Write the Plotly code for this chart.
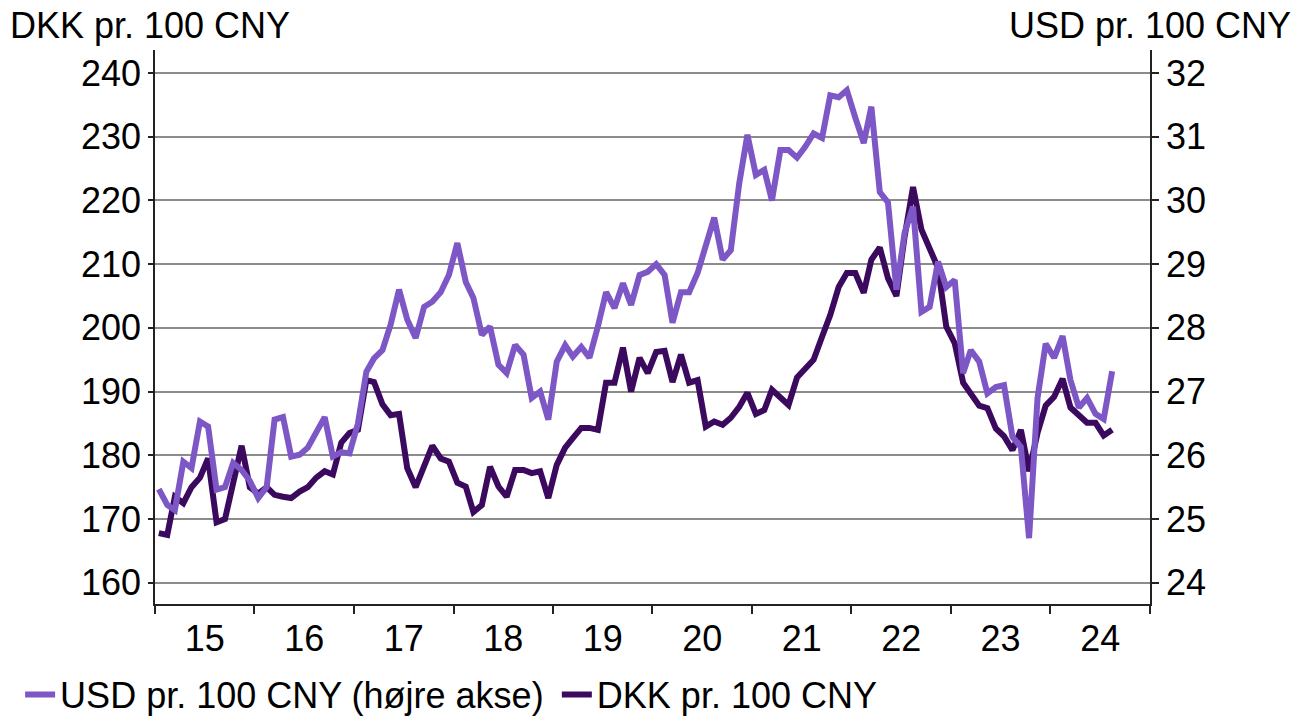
import pandas as pd
import plotly.graph_objects as go

# Monthly observations, Jan 2015 - Aug 2024
start_month = "2015-01-01"
n_months = 116

dkk_per_100_cny = [
    167.8, 167.5, 173.5, 172.5, 175.0, 176.5, 179.5, 169.5, 170.0, 175.5, 181.5, 175.0,
    174.0, 175.0, 173.8, 173.5, 173.3, 174.3, 175.0, 176.5, 177.5, 177.0, 182.0, 183.5,
    184.0, 191.8, 191.5, 188.0, 186.3, 186.5, 178.0, 175.0, 178.5, 181.5, 179.5, 179.0,
    175.7, 175.1, 171.1, 172.2, 178.2, 175.1, 173.5, 177.7, 177.7, 177.2, 177.5, 173.3,
    178.5, 181.2, 182.7, 184.3, 184.3, 184.0, 191.4, 191.4, 196.9, 190.0, 195.3, 192.9,
    196.2, 196.4, 191.5, 195.8, 191.4, 191.8, 184.5, 185.3, 184.8, 185.9, 187.6, 189.8,
    186.5, 187.1, 190.3, 189.0, 187.9, 192.2, 193.7, 195.0, 198.6, 202.0, 206.4, 208.6,
    208.6, 205.5, 210.7, 212.6, 207.8, 205.0, 214.3, 222.1, 215.4, 212.7, 209.4, 200.2,
    197.6, 191.4, 189.5, 187.8, 187.4, 184.2, 183.0, 180.8, 184.0, 177.5, 183.5, 187.8,
    189.2, 192.0, 187.5, 186.3, 185.1, 185.1, 183.1, 184.0,
]

usd_per_100_cny = [
    25.47, 25.22, 25.14, 25.90, 25.80, 26.53, 26.45, 25.46, 25.50, 25.88, 25.77, 25.60,
    25.33, 25.50, 26.56, 26.60, 25.98, 26.01, 26.12, 26.35, 26.60, 25.98, 26.05, 26.03,
    26.50, 27.31, 27.52, 27.65, 28.05, 28.60, 28.13, 27.84, 28.33, 28.41, 28.56, 28.83,
    29.33, 28.72, 28.47, 27.89, 28.02, 27.42, 27.29, 27.73, 27.58, 26.90, 27.00, 26.56,
    27.47, 27.73, 27.55, 27.70, 27.53, 28.02, 28.56, 28.31, 28.70, 28.36, 28.83, 28.88,
    29.00, 28.83, 28.08, 28.56, 28.56, 28.86, 29.30, 29.73, 29.07, 29.22, 30.27, 31.03,
    30.40, 30.48, 30.00, 30.79, 30.79, 30.67, 30.84, 31.05, 30.98, 31.65, 31.62, 31.73,
    31.30, 30.90, 31.47, 30.13, 29.97, 28.60, 29.49, 29.90, 28.25, 28.33, 29.04, 28.64,
    28.75, 27.29, 27.65, 27.47, 26.97, 27.07, 27.10, 26.29, 26.13, 24.70, 26.90, 27.75,
    27.53, 27.87, 27.18, 26.75, 26.90, 26.65, 26.57, 27.32,
]

left_ticks = [160, 170, 180, 190, 200, 210, 220, 230, 240]
right_ticks = [24, 25, 26, 27, 28, 29, 30, 31, 32]

name_usd = "USD pr. 100 CNY (højre akse)"
name_dkk = "DKK pr. 100 CNY"
title_left = "DKK pr. 100 CNY"
title_right = "USD pr. 100 CNY"

dates = pd.date_range(start_month, periods=n_months, freq="MS") + pd.Timedelta(days=14)

PURPLE = "#7E57C6"
DARK = "#3B0A5E"
AXIS = "#222222"
FONT = "Liberation Sans, Arial, sans-serif"
FS = 36

fig = go.Figure()
fig.add_trace(go.Scatter(x=dates, y=dkk_per_100_cny, name=name_dkk, mode="lines",
                         line=dict(color=DARK, width=6), yaxis="y", legend="legend2"))
fig.add_trace(go.Scatter(x=dates, y=usd_per_100_cny, name=name_usd, mode="lines",
                         line=dict(color=PURPLE, width=6), yaxis="y2", legend="legend"))

fig.update_layout(
    width=1298, height=716,
    margin=dict(l=155, r=148, t=50, b=112, autoexpand=False),
    paper_bgcolor="white", plot_bgcolor="white",
    font=dict(family=FONT, size=FS, color="black"),
    xaxis=dict(
        type="date", range=["2015-01-01", "2025-01-01"],
        tick0="2015-01-01", dtick="M12", tickformat="%y", ticklabelmode="period",
        ticks="outside", ticklen=8, tickwidth=1.5, tickcolor=AXIS,
        showline=True, linecolor=AXIS, linewidth=1.5, showgrid=False,
        tickfont=dict(size=FS), automargin=False, ticklabelstandoff=-6,
    ),
    yaxis=dict(
        range=[156.67, 243.6], tickvals=left_ticks,
        ticks="outside", ticklen=5, tickwidth=1.5, tickcolor=AXIS,
        showline=True, linecolor=AXIS, linewidth=1.5,
        showgrid=True, gridcolor="#8c8c8c", gridwidth=1.5, zeroline=False,
        tickfont=dict(size=FS), automargin=False,
    ),
    yaxis2=dict(
        range=[23.667, 32.36], tickvals=right_ticks, overlaying="y", side="right",
        ticks="outside", ticklen=7, tickwidth=1.5, tickcolor=AXIS,
        showline=True, linecolor=AXIS, linewidth=1.5,
        showgrid=False, zeroline=False,
        tickfont=dict(size=FS), automargin=False,
    ),
    legend=dict(orientation="h", xref="container", yref="container",
                x=0.0155, y=0.03, xanchor="left", yanchor="middle",
                font=dict(size=FS), bgcolor="rgba(0,0,0,0)"),
    legend2=dict(orientation="h", xref="container", yref="container",
                 x=0.429, y=0.03, xanchor="left", yanchor="middle",
                 font=dict(size=FS), bgcolor="rgba(0,0,0,0)"),
    showlegend=True,
    annotations=[
        dict(text=title_left, xref="paper", yref="paper", x=-0.148, y=1.0,
             xanchor="left", yanchor="bottom", yshift=2, showarrow=False,
             font=dict(size=FS)),
        dict(text=title_right, xref="paper", yref="paper", x=1.144, y=1.0,
             xanchor="right", yanchor="bottom", yshift=2, showarrow=False,
             font=dict(size=FS)),
    ],
)

fig.write_html("out.html", config={"displayModeBar": False},
               post_script="document.body.style.margin='0';")
